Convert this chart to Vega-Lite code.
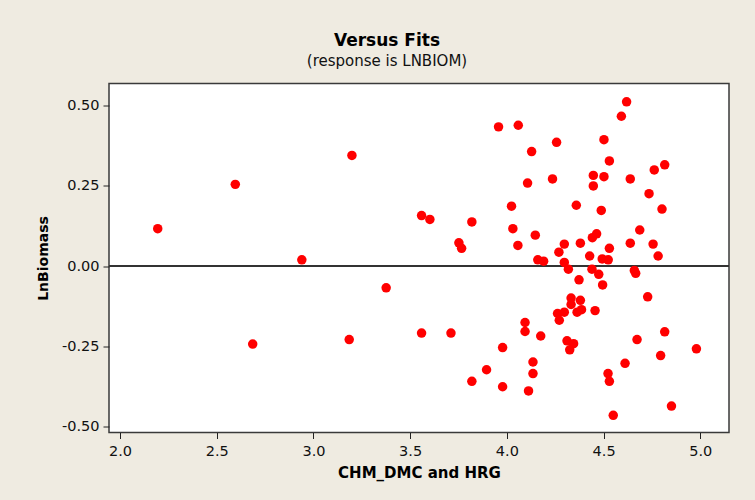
{
  "$schema": "https://vega.github.io/schema/vega-lite/v6.json",
  "width": 620,
  "height": 349,
  "autosize": {"type": "none"},
  "padding": {"left": 109, "top": 83.5, "right": 26, "bottom": 67.5},
  "background": "#EFEBE1",
  "title": {
    "text": "Versus Fits",
    "subtitle": "(response is LNBIOM)",
    "font": "DejaVu Sans",
    "fontSize": 17,
    "fontWeight": "bold",
    "color": "#000000",
    "subtitleFont": "DejaVu Sans",
    "subtitleFontSize": 15,
    "subtitleColor": "#111111",
    "subtitlePadding": 4,
    "anchor": "middle",
    "frame": "bounds",
    "offset": 14,
    "dx": 4
  },
  "config": {
    "view": {"fill": "white", "stroke": "#3a3a3a", "strokeWidth": 1.5},
    "axis": {
      "labelFont": "DejaVu Sans",
      "labelFontSize": 14.5,
      "labelColor": "#111111",
      "titleFont": "DejaVu Sans",
      "titleFontWeight": "bold",
      "titleColor": "#000000",
      "domain": false,
      "grid": false,
      "ticks": true,
      "tickColor": "#222222",
      "tickSize": 6,
      "tickWidth": 1
    },
    "axisX": {"labelPadding": 6, "titleFontSize": 15, "titlePadding": 7},
    "axisY": {"labelPadding": 4, "titleFontSize": 14, "titlePadding": 11}
  },
  "data": {
    "values": [
      {"fit": 2.195, "resid": 0.117},
      {"fit": 2.596, "resid": 0.255},
      {"fit": 3.199, "resid": 0.345},
      {"fit": 2.94, "resid": 0.02},
      {"fit": 3.376, "resid": -0.067},
      {"fit": 2.686, "resid": -0.242},
      {"fit": 3.185, "resid": -0.228},
      {"fit": 3.559, "resid": -0.208},
      {"fit": 3.559, "resid": 0.158},
      {"fit": 3.602, "resid": 0.146},
      {"fit": 4.619, "resid": 0.512},
      {"fit": 4.592, "resid": 0.467},
      {"fit": 3.957, "resid": 0.434},
      {"fit": 4.059, "resid": 0.439},
      {"fit": 4.257, "resid": 0.386},
      {"fit": 4.502, "resid": 0.394},
      {"fit": 4.128, "resid": 0.357},
      {"fit": 4.53, "resid": 0.328},
      {"fit": 4.816, "resid": 0.316},
      {"fit": 4.762, "resid": 0.3},
      {"fit": 4.447, "resid": 0.283},
      {"fit": 4.502, "resid": 0.279},
      {"fit": 4.638, "resid": 0.272},
      {"fit": 4.236, "resid": 0.272},
      {"fit": 4.447, "resid": 0.25},
      {"fit": 4.107, "resid": 0.259},
      {"fit": 4.735, "resid": 0.226},
      {"fit": 4.024, "resid": 0.187},
      {"fit": 4.359, "resid": 0.19},
      {"fit": 4.802, "resid": 0.178},
      {"fit": 4.488, "resid": 0.174},
      {"fit": 3.819, "resid": 0.138},
      {"fit": 4.031, "resid": 0.117},
      {"fit": 4.687, "resid": 0.113},
      {"fit": 4.147, "resid": 0.097},
      {"fit": 4.464, "resid": 0.101},
      {"fit": 4.442, "resid": 0.089},
      {"fit": 3.752, "resid": 0.073},
      {"fit": 3.766, "resid": 0.056},
      {"fit": 4.057, "resid": 0.065},
      {"fit": 4.297, "resid": 0.069},
      {"fit": 4.38, "resid": 0.072},
      {"fit": 4.638, "resid": 0.072},
      {"fit": 4.756, "resid": 0.069},
      {"fit": 4.53, "resid": 0.056},
      {"fit": 4.269, "resid": 0.044},
      {"fit": 4.428, "resid": 0.032},
      {"fit": 4.782, "resid": 0.032},
      {"fit": 4.16, "resid": 0.02},
      {"fit": 4.19, "resid": 0.016},
      {"fit": 4.493, "resid": 0.023},
      {"fit": 4.524, "resid": 0.02},
      {"fit": 4.297, "resid": 0.012},
      {"fit": 4.318, "resid": -0.009},
      {"fit": 4.44, "resid": -0.009},
      {"fit": 4.475, "resid": -0.025},
      {"fit": 4.659, "resid": -0.013},
      {"fit": 4.666, "resid": -0.022},
      {"fit": 4.373, "resid": -0.042},
      {"fit": 4.495, "resid": -0.058},
      {"fit": 4.728, "resid": -0.095},
      {"fit": 4.332, "resid": -0.099},
      {"fit": 4.38, "resid": -0.106},
      {"fit": 4.332, "resid": -0.119},
      {"fit": 4.386, "resid": -0.135},
      {"fit": 4.363, "resid": -0.143},
      {"fit": 4.297, "resid": -0.143},
      {"fit": 4.262, "resid": -0.147},
      {"fit": 4.456, "resid": -0.138},
      {"fit": 4.271, "resid": -0.168},
      {"fit": 4.094, "resid": -0.175},
      {"fit": 4.094, "resid": -0.203},
      {"fit": 3.711, "resid": -0.208},
      {"fit": 4.175, "resid": -0.217},
      {"fit": 4.816, "resid": -0.204},
      {"fit": 3.978, "resid": -0.253},
      {"fit": 4.311, "resid": -0.232},
      {"fit": 4.345, "resid": -0.241},
      {"fit": 4.325, "resid": -0.26},
      {"fit": 4.673, "resid": -0.228},
      {"fit": 4.98, "resid": -0.257},
      {"fit": 4.795, "resid": -0.278},
      {"fit": 4.135, "resid": -0.298},
      {"fit": 4.611, "resid": -0.302},
      {"fit": 3.895, "resid": -0.322},
      {"fit": 4.135, "resid": -0.334},
      {"fit": 4.523, "resid": -0.334},
      {"fit": 3.819, "resid": -0.358},
      {"fit": 4.53, "resid": -0.358},
      {"fit": 3.978, "resid": -0.375},
      {"fit": 4.112, "resid": -0.388},
      {"fit": 4.851, "resid": -0.435},
      {"fit": 4.55, "resid": -0.464}
    ]
  },
  "layer": [
    {
      "mark": {"type": "rule", "color": "#333333", "strokeWidth": 1},
      "encoding": {
        "y": {"datum": 0, "type": "quantitative", "title": "LnBiomass"}
      }
    },
    {
      "mark": {"type": "circle", "color": "#FF0000", "size": 90, "opacity": 1},
      "encoding": {
        "x": {
          "field": "fit",
          "type": "quantitative",
          "title": "CHM_DMC and HRG",
          "scale": {"domain": [1.9431, 5.1484], "nice": false, "zero": false},
          "axis": {"values": [2.0, 2.5, 3.0, 3.5, 4.0, 4.5, 5.0], "format": ".1f"}
        },
        "y": {
          "field": "resid",
          "type": "quantitative",
          "title": "LnBiomass",
          "scale": {"domain": [-0.5174, 0.569], "nice": false, "zero": false},
          "axis": {
            "values": [-0.5, -0.25, 0, 0.25, 0.5],
            "labelExpr": "replace(format(datum.value, '.2f'), '\u2212', '-')"
          }
        }
      }
    }
  ]
}
